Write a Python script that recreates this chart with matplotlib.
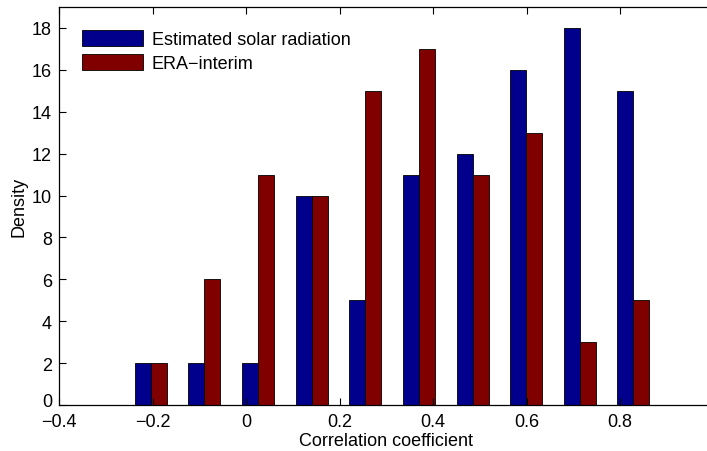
import matplotlib
matplotlib.use("Agg")
import matplotlib.pyplot as plt
from matplotlib.transforms import ScaledTranslation

bin_centers = [-0.203, -0.090, 0.026, 0.141, 0.255, 0.370, 0.486, 0.599, 0.714, 0.828]
estimated = [2, 2, 2, 10, 5, 11, 12, 16, 18, 15]
era_interim = [2, 6, 11, 10, 15, 17, 11, 13, 3, 5]
series_labels = ["Estimated solar radiation", "ERA\u2212interim"]
xticks = [-0.4, -0.2, 0, 0.2, 0.4, 0.6, 0.8]
xticklabels = ['\u22120.4', '\u22120.2', '0', '0.2', '0.4', '0.6', '0.8']
yticks = [0, 2, 4, 6, 8, 10, 12, 14, 16, 18]

plt.rcParams['font.family'] = ['Liberation Sans', 'DejaVu Sans']

FS = 13
fig = plt.figure(figsize=(7.07, 4.52), dpi=100)
ax = fig.add_axes([59/707, 46/452, (713.5-59)/707, (406-8)/452])

w = 0.0345
ax.bar([c - w/2 for c in bin_centers], estimated, width=w, color='#00008C',
       edgecolor='black', linewidth=0.6, label=series_labels[0])
ax.bar([c + w/2 for c in bin_centers], era_interim, width=w, color='#800000',
       edgecolor='black', linewidth=0.6, label=series_labels[1])

ax.set_xlim(-0.4, 1.0)
ax.set_ylim(0, 19)
ax.set_xticks(xticks)
ax.set_xticklabels(xticklabels)
ax.set_yticks(yticks)
ax.tick_params(direction='in', length=5, width=0.8, labelsize=FS, top=True,
               right=False, colors='black')
ax.tick_params(axis='x', pad=6)
ax.tick_params(axis='y', pad=5)
for s in ax.spines.values():
    s.set_linewidth(0.9)
ax.spines['right'].set_visible(False)

# lift the bottom y tick label slightly, as in the reference
ylab0 = ax.get_yticklabels()[0]
ylab0.set_transform(ylab0.get_transform() + ScaledTranslation(0, 5/100, fig.dpi_scale_trans))

ax.set_xlabel('Correlation coefficient', fontsize=FS, labelpad=1)
ax.set_ylabel('Density', fontsize=FS, labelpad=3)

leg = ax.legend(loc='upper left', bbox_to_anchor=(82/707, 1 - 31/452),
                bbox_transform=fig.transFigure, frameon=False,
                fontsize=FS, handlelength=3.4, handleheight=1.0,
                handletextpad=0.45, labelspacing=0.3, borderaxespad=0,
                borderpad=0)

fig.savefig('out.png', dpi=100, facecolor='white')
